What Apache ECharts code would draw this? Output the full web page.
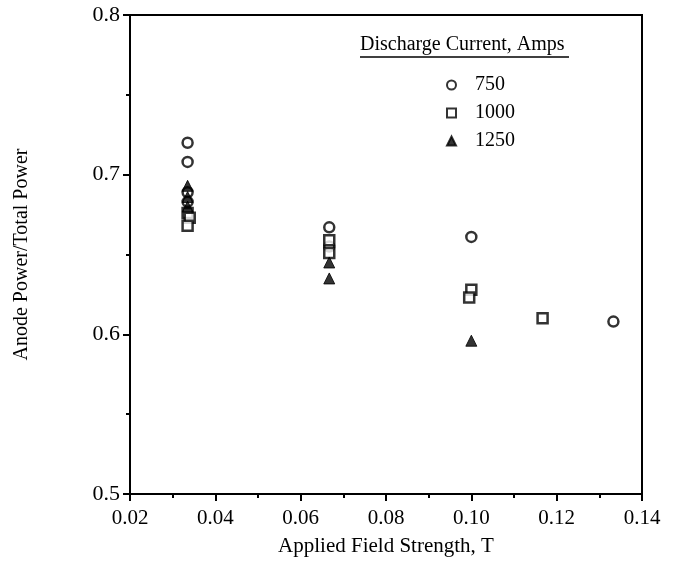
<!DOCTYPE html>
<html>
<head>
<meta charset="utf-8">
<script src="https://cdn.jsdelivr.net/npm/echarts@6/dist/echarts.min.js"></script>
<style>
  html, body { margin: 0; padding: 0; background: #fff; }
  #chart { width: 683px; height: 578px; }
</style>
</head>
<body>
<div id="chart"></div>
<script>
// discharge current series (Amps) – field strength (T) vs anode power fraction
const seriesNames = ["750", "1000", "1250"];

const field750 = [0.0335, 0.0335, 0.0335, 0.0335, 0.0667, 0.0667, 0.1, 0.1333];
const frac750 = [0.720, 0.708, 0.689, 0.683, 0.667, 0.655, 0.661, 0.608];

const field1000 = [0.0335, 0.034, 0.0335, 0.0667, 0.0667, 0.1, 0.0995, 0.1167];
const frac1000 = [0.676, 0.673, 0.668, 0.659, 0.651, 0.628, 0.623, 0.610];

const field1250 = [0.0335, 0.0335, 0.0335, 0.0667, 0.0667, 0.1];
const frac1250 = [0.693, 0.686, 0.680, 0.645, 0.635, 0.596];

const pairs = (xs, ys) => xs.map((x, i) => [x, ys[i]]);

const font = "Liberation Serif";
const chart = echarts.init(document.getElementById("chart"));

const markerBase = {
  type: "scatter",
  symbolSize: 10,
  itemStyle: { color: "#fff", borderColor: "#000", borderWidth: 2.5 },
};

chart.setOption({
  animation: false,
  backgroundColor: "#fff",
  grid: {
    left: 130,
    right: 41,
    top: 15,
    bottom: 84,
    show: true,
    borderColor: "#000",
    borderWidth: 2,
  },
  xAxis: {
    type: "value",
    min: 0.02,
    max: 0.14,
    interval: 0.02,
    name: "Applied Field Strength, T",
    nameLocation: "middle",
    nameGap: 42,
    nameTextStyle: { fontFamily: font, fontSize: 21, color: "#000" },
    axisLine: { lineStyle: { color: "#000", width: 2 } },
    axisTick: { inside: false, length: 7, lineStyle: { color: "#000", width: 2 } },
    minorTick: { show: true, splitNumber: 2, length: 4, lineStyle: { color: "#000", width: 2 } },
    splitLine: { show: false },
    axisLabel: {
      fontFamily: font,
      fontSize: 21,
      color: "#000",
      margin: 14,
      formatter: (v) => v.toFixed(2),
    },
  },
  yAxis: {
    type: "value",
    min: 0.5,
    max: 0.8,
    interval: 0.1,
    name: "Anode Power/Total Power",
    nameLocation: "middle",
    nameGap: 98,
    nameTextStyle: { fontFamily: font, fontSize: 20, color: "#000" },
    axisLine: { lineStyle: { color: "#000", width: 2 } },
    axisTick: { inside: false, length: 7, lineStyle: { color: "#000", width: 2 } },
    minorTick: { show: true, splitNumber: 2, length: 4, lineStyle: { color: "#000", width: 2 } },
    splitLine: { show: false },
    axisLabel: {
      fontFamily: font,
      fontSize: 22,
      color: "#000",
      margin: 10,
      formatter: (v) => v.toFixed(1),
    },
  },
  legend: {
    orient: "vertical",
    left: 441,
    top: 70,
    itemWidth: 9,
    itemHeight: 9,
    itemGap: 8,
    data: seriesNames,
    textStyle: { fontFamily: font, fontSize: 20, color: "#000", padding: [0, 0, 0, 14] },
  },
  graphic: [
    {
      type: "text",
      left: 360,
      top: 35,
      style: { text: "Discharge Current, Amps", font: "20px 'Liberation Serif'", fill: "#000" },
    },
    {
      type: "line",
      shape: { x1: 360, y1: 57, x2: 569, y2: 57 },
      style: { stroke: "#000", lineWidth: 1.5 },
    },
  ],
  series: [
    Object.assign({}, markerBase, {
      name: seriesNames[0],
      symbol: "circle",
      data: pairs(field750, frac750),
    }),
    Object.assign({}, markerBase, {
      name: seriesNames[1],
      symbol: "rect",
      data: pairs(field1000, frac1000),
    }),
    Object.assign({}, markerBase, {
      name: seriesNames[2],
      symbol: "triangle",
      symbolSize: 11,
      itemStyle: { color: "#000", borderColor: "#000", borderWidth: 1 },
      data: pairs(field1250, frac1250),
    }),
  ],
});
</script>
</body>
</html>
